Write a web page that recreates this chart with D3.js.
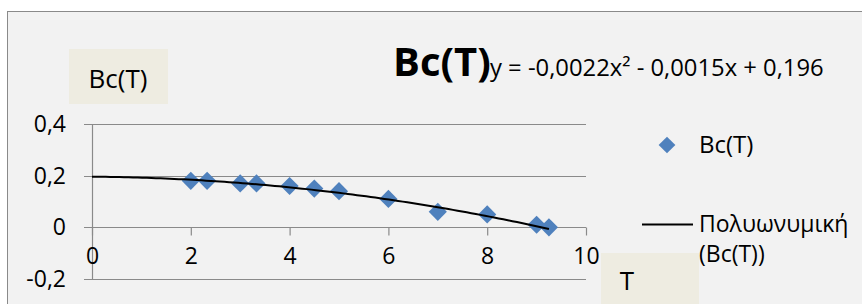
<!DOCTYPE html>
<html><head><meta charset="utf-8">
<script src="https://cdn.jsdelivr.net/npm/d3@7"></script>
<style>
html,body{margin:0;padding:0;background:#fff;}
svg{display:block;font-family:"Open Sans",sans-serif;}
</style></head>
<body>
<svg id="c" width="862" height="304"></svg>
<script>
// ---- data ----
const tValues = [2, 2.33, 3, 3.33, 4, 4.5, 5, 6, 7, 8, 9, 9.25];
const bcValues = [0.18, 0.18, 0.17, 0.17, 0.16, 0.15, 0.14, 0.11, 0.06, 0.05, 0.01, 0.0];
const xTicks = [0, 2, 4, 6, 8, 10];
const yTicks = [-0.2, 0, 0.2, 0.4];
const yTickLabels = ["-0,2", "0", "0,2", "0,4"];
const trendCoefs = [0.196, -0.0015, -0.0022]; // c0 + c1 x + c2 x^2 (from chart equation)
const trendRange = [0, 9.25];
const titleText = "Bc(T)";
const equationText = "y = -0,0022x² - 0,0015x + 0,196";
const yAxisTitle = "Bc(T)";
const xAxisTitle = "T";
const legendLabels = ["Bc(T)", "Πολυωνυμική", "(Bc(T))"];

const svg = d3.select("#c");
const blue = "#4F81BD", grid = "#8a8a8a";

// chart frame
svg.append("rect").attr("x", 7.5).attr("y", 11.5).attr("width", 870).attr("height", 310)
  .attr("fill", "#F2F2F2").attr("stroke", "#8a8a8a").attr("stroke-width", 1);

const x = d3.scaleLinear().domain([0, 10]).range([92, 586]);
const y = d3.scaleLinear().domain([-0.2, 0.4]).range([279, 124]);

// horizontal gridlines (with left tick extension)
svg.append("g").selectAll("line").data(yTicks).join("line")
  .attr("x1", 84).attr("x2", x(10))
  .attr("y1", d => Math.round(y(d)) + 0.5).attr("y2", d => Math.round(y(d)) + 0.5)
  .attr("stroke", grid).attr("stroke-width", 1.2);

// y axis line
svg.append("line").attr("x1", x(0) + 0.5).attr("x2", x(0) + 0.5)
  .attr("y1", y(0.4)).attr("y2", y(-0.2)).attr("stroke", grid).attr("stroke-width", 1.2);

// x axis at y=0 using d3 axis
const xAxis = d3.axisBottom(x).tickValues(xTicks).tickSize(8).tickFormat(d => d);
const gx = svg.append("g").attr("transform", `translate(0,${Math.round(y(0)) + 0.5})`).call(xAxis);
gx.select(".domain").remove();
gx.selectAll(".tick line").attr("stroke", grid).attr("stroke-width", 1.2);
gx.selectAll(".tick text").attr("font-size", 23).attr("fill", "#000")
  .attr("font-family", "Open Sans").attr("y", 20).attr("dy", "0.71em");

// y tick labels
svg.append("g").selectAll("text").data(yTicks).join("text")
  .attr("x", 66).attr("y", d => y(d) + 8)
  .attr("text-anchor", "end").attr("font-size", 23).attr("fill", "#000")
  .text((d, i) => yTickLabels[i]);

// trendline
const poly = t => trendCoefs.reduce((s, c, k) => s + c * Math.pow(t, k), 0);
const trendPts = d3.range(0, 101).map(i => trendRange[0] + (trendRange[1] - trendRange[0]) * i / 100);

// markers
svg.append("g").selectAll("path").data(tValues).join("path")
  .attr("transform", (d, i) => `translate(${x(d)},${y(bcValues[i])}) rotate(45)`)
  .attr("d", d3.symbol().type(d3.symbolSquare).size(165)())
  .attr("fill", blue);

svg.append("path").datum(trendPts)
  .attr("d", d3.line().x(d => x(d)).y(d => y(poly(d))))
  .attr("fill", "none").attr("stroke", "#000").attr("stroke-width", 2);

// title + equation
svg.append("text").attr("x", 393).attr("y", 76).attr("font-size", 40).attr("font-weight", "bold")
  .attr("fill", "#000").text(titleText);
svg.append("text").attr("x", 490).attr("y", 76).attr("font-size", 23.8).attr("fill", "#000")
  .text(equationText);

// axis title boxes
svg.append("rect").attr("x", 69).attr("y", 49).attr("width", 99).attr("height", 55).attr("fill", "#EEECE1");
svg.append("text").attr("x", 118).attr("y", 88).attr("text-anchor", "middle").attr("font-size", 26)
  .attr("fill", "#000").text(yAxisTitle);
svg.append("rect").attr("x", 601).attr("y", 253).attr("width", 98).attr("height", 60).attr("fill", "#EEECE1");
svg.append("text").attr("x", 627).attr("y", 290).attr("text-anchor", "middle").attr("font-size", 26)
  .attr("fill", "#000").text(xAxisTitle);

// legend
svg.append("path").attr("transform", "translate(667,145) rotate(45)")
  .attr("d", d3.symbol().type(d3.symbolSquare).size(140)()).attr("fill", blue);
svg.append("text").attr("x", 699).attr("y", 153).attr("font-size", 24).attr("fill", "#000").text(legendLabels[0]);
svg.append("line").attr("x1", 642).attr("x2", 693).attr("y1", 224.5).attr("y2", 224.5)
  .attr("stroke", "#000").attr("stroke-width", 2);
svg.append("text").attr("x", 699).attr("y", 232).attr("font-size", 23).attr("fill", "#000").text(legendLabels[1]);
svg.append("text").attr("x", 699).attr("y", 262).attr("font-size", 23).attr("fill", "#000").text(legendLabels[2]);
</script>
</body></html>
